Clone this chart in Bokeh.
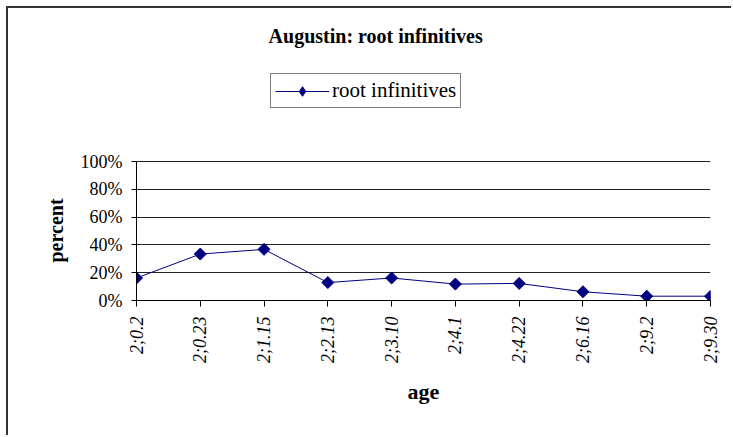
from bokeh.plotting import figure
from bokeh.models import (Range1d, FixedTicker, Legend, LegendItem, Label,
                          NumeralTickFormatter, Title)
from bokeh.embed import file_html
from bokeh.resources import INLINE

ages = ["2;0.2", "2;0.23", "2;1.15", "2;2.13", "2;3.10",
        "2;4.1", "2;4.22", "2;6.16", "2;9.2", "2;9.30"]
root_inf = [0.162, 0.334, 0.368, 0.129, 0.162, 0.118, 0.123, 0.063, 0.031, 0.031]
y_ticks = [0, 0.2, 0.4, 0.6, 0.8, 1.0]

FONT = "Liberation Serif"
xs = list(range(len(ages)))

p = figure(width=725, height=429, output_backend="svg", toolbar_location=None,
           x_range=Range1d(0, len(ages) - 1), y_range=Range1d(0, 2.094),
           min_border_left=128, min_border_right=23, min_border_top=1,
           min_border_bottom=137)
p.styles = {"border-left": "2px solid #333", "border-top": "2px solid #333",
            "margin-left": "6px", "margin-top": "6px"}
p.outline_line_color = None
p.background_fill_color = "white"
p.border_fill_color = "white"

# x axis
p.xaxis.ticker = FixedTicker(ticks=xs)
p.xaxis.major_label_overrides = {i: a for i, a in enumerate(ages)}
p.xaxis.major_label_orientation = 1.5708
p.xaxis.major_label_text_font = FONT
p.xaxis.major_label_text_font_style = "italic"
p.xaxis.major_label_text_font_size = "18px"
p.xaxis.major_label_text_color = "black"
p.xaxis.major_label_standoff = 10
p.xaxis.major_tick_in = 0
p.xaxis.major_tick_out = 6
p.xaxis.minor_tick_line_color = None
p.xaxis.axis_line_color = "black"
p.xaxis.major_tick_line_color = "black"
p.xaxis.axis_label = "age"
p.xaxis.axis_label_text_font = FONT
p.xaxis.axis_label_text_font_style = "bold"
p.xaxis.axis_label_text_font_size = "22px"
p.xaxis.axis_label_text_color = "black"
p.xaxis.axis_label_standoff = 13

# y axis
p.yaxis.ticker = FixedTicker(ticks=y_ticks)
p.yaxis.bounds = (0, 1)
p.yaxis.formatter = NumeralTickFormatter(format="0%")
p.yaxis.major_label_text_font = FONT
p.yaxis.major_label_text_font_size = "18px"
p.yaxis.major_label_text_color = "black"
p.yaxis.major_label_standoff = 9
p.yaxis.major_tick_in = 0
p.yaxis.major_tick_out = 5
p.yaxis.minor_tick_line_color = None
p.yaxis.axis_line_color = "black"
p.yaxis.major_tick_line_color = "black"

ylab = Title(text="percent", align="left", offset=38, text_font=FONT,
             text_font_style="bold", text_font_size="20px", text_color="black",
             standoff=22)
p.add_layout(ylab, "left")

p.xgrid.grid_line_color = None
p.ygrid.grid_line_color = "#222222"
p.ygrid.grid_line_width = 1
p.ygrid.bounds = (0, 1)

line = p.line(xs, root_inf, line_color="#000080", line_width=1)
# narrow diamond (used for the legend swatch), hidden under the square-diamonds
leg_pts = p.scatter(xs, root_inf, marker="diamond", size=9,
                    fill_color="#000080", line_color="#000080")
pts = p.scatter(xs, root_inf, marker="square", angle=0.7854, size=8.5,
                fill_color="#000080", line_color="#000080")

legend = Legend(items=[LegendItem(label="root infinitives", renderers=[line, leg_pts])],
                location=(134, 192), orientation="horizontal",
                label_text_font=FONT, label_text_font_size="21px",
                label_text_color="black", border_line_color="black",
                border_line_width=1, glyph_width=54, glyph_height=24,
                padding=4, margin=0, label_standoff=3, spacing=0,
                background_fill_alpha=1)
p.add_layout(legend, "center")

title = Label(x=3.75, y=1.906, text="Augustin: root infinitives",
              text_font=FONT, text_font_style="bold", text_font_size="20px",
              text_align="center", text_baseline="middle", text_color="black")
p.add_layout(title)

open("out.html", "w").write(file_html(p, INLINE))
